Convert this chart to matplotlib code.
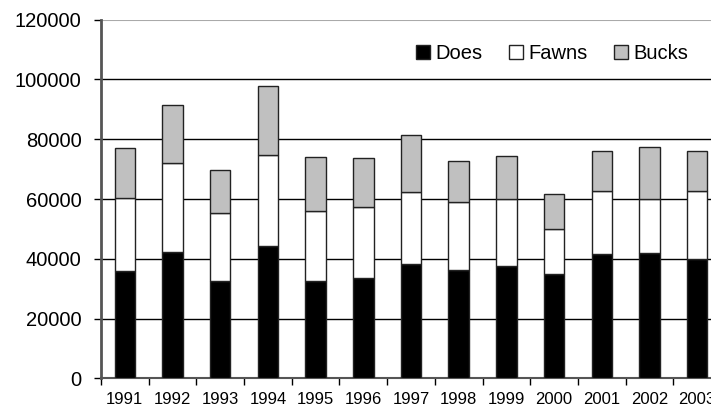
import matplotlib
matplotlib.use("Agg")
import matplotlib.pyplot as plt
import numpy as np
from matplotlib import font_manager

years = ["1991", "1992", "1993", "1994", "1995", "1996", "1997",
         "1998", "1999", "2000", "2001", "2002", "2003"]
does = [35800, 42400, 32700, 44200, 32700, 33500, 38400,
        36200, 37500, 34900, 41500, 42000, 39800]
fawns = [24700, 29600, 22500, 30500, 23300, 23900, 23800,
         22800, 22500, 15100, 21200, 18000, 22900]
bucks = [16500, 19500, 14600, 23100, 18200, 16300, 19100,
         13800, 14300, 11800, 13300, 17400, 13300]

series = [("Does", does, "black"), ("Fawns", fawns, "white"), ("Bucks", bucks, "#c0c0c0")]

base_font = "Liberation Sans"
names = {f.name for f in font_manager.fontManager.ttflist}
narrow = "Liberation Sans Narrow" if "Liberation Sans Narrow" in names else base_font
plt.rcParams["font.family"] = [base_font, "DejaVu Sans"]

W, H = 711, 411
fig = plt.figure(figsize=(W / 100, H / 100), dpi=100)
left, right, top, bottom = 101, 721, 19.7, 378.3
ax = fig.add_axes([left / W, (H - bottom) / H, (right - left) / W, (bottom - top) / H])

x = np.arange(len(years))
bottom_vals = np.zeros(len(years))
handles = []
for name, vals, col in series:
    b = ax.bar(x, vals, width=0.43, bottom=bottom_vals, color=col,
               edgecolor="#222222", linewidth=1.0, label=name, zorder=3)
    handles.append(b)
    bottom_vals = bottom_vals + np.array(vals)

ax.set_xlim(-0.5, len(years) - 0.5)
ax.set_ylim(0, 120000)
ax.set_yticks(np.arange(0, 120001, 20000))
ax.set_yticklabels([str(v) for v in range(0, 120001, 20000)], fontsize=14.5)

ax.set_xticks(x)
ax.set_xticklabels(years, fontsize=12, family=[narrow, "DejaVu Sans"])
ax.set_xticks(np.arange(-0.5, len(years), 1.0), minor=True)
ax.tick_params(axis="x", which="major", length=0, pad=10)
ax.tick_params(axis="x", which="minor", length=5, width=1, color="black", direction="out")
ax.tick_params(axis="y", length=5, width=1, color="black", direction="out", pad=9)

for yv in range(20000, 120000, 20000):
    ax.axhline(yv, color="black", linewidth=1.0, zorder=1)
ax.axhline(120000, color="#aaaaaa", linewidth=1.5, zorder=1)

ax.spines["left"].set_color("#555555")
ax.spines["left"].set_linewidth(2)
ax.spines["bottom"].set_color("#555555")
ax.spines["bottom"].set_linewidth(1.5)
ax.spines["top"].set_visible(False)
ax.spines["right"].set_visible(False)

leg = ax.legend(handles=handles, labels=[s[0] for s in series], ncol=3,
                loc="upper left", bbox_to_anchor=(406 / W, 1 - 34 / H),
                bbox_transform=fig.transFigure, frameon=False, fontsize=14.5,
                handlelength=0.7, handleheight=0.7, handletextpad=0.27,
                columnspacing=1.3, borderpad=0)

fig.savefig("out.png", dpi=100)
